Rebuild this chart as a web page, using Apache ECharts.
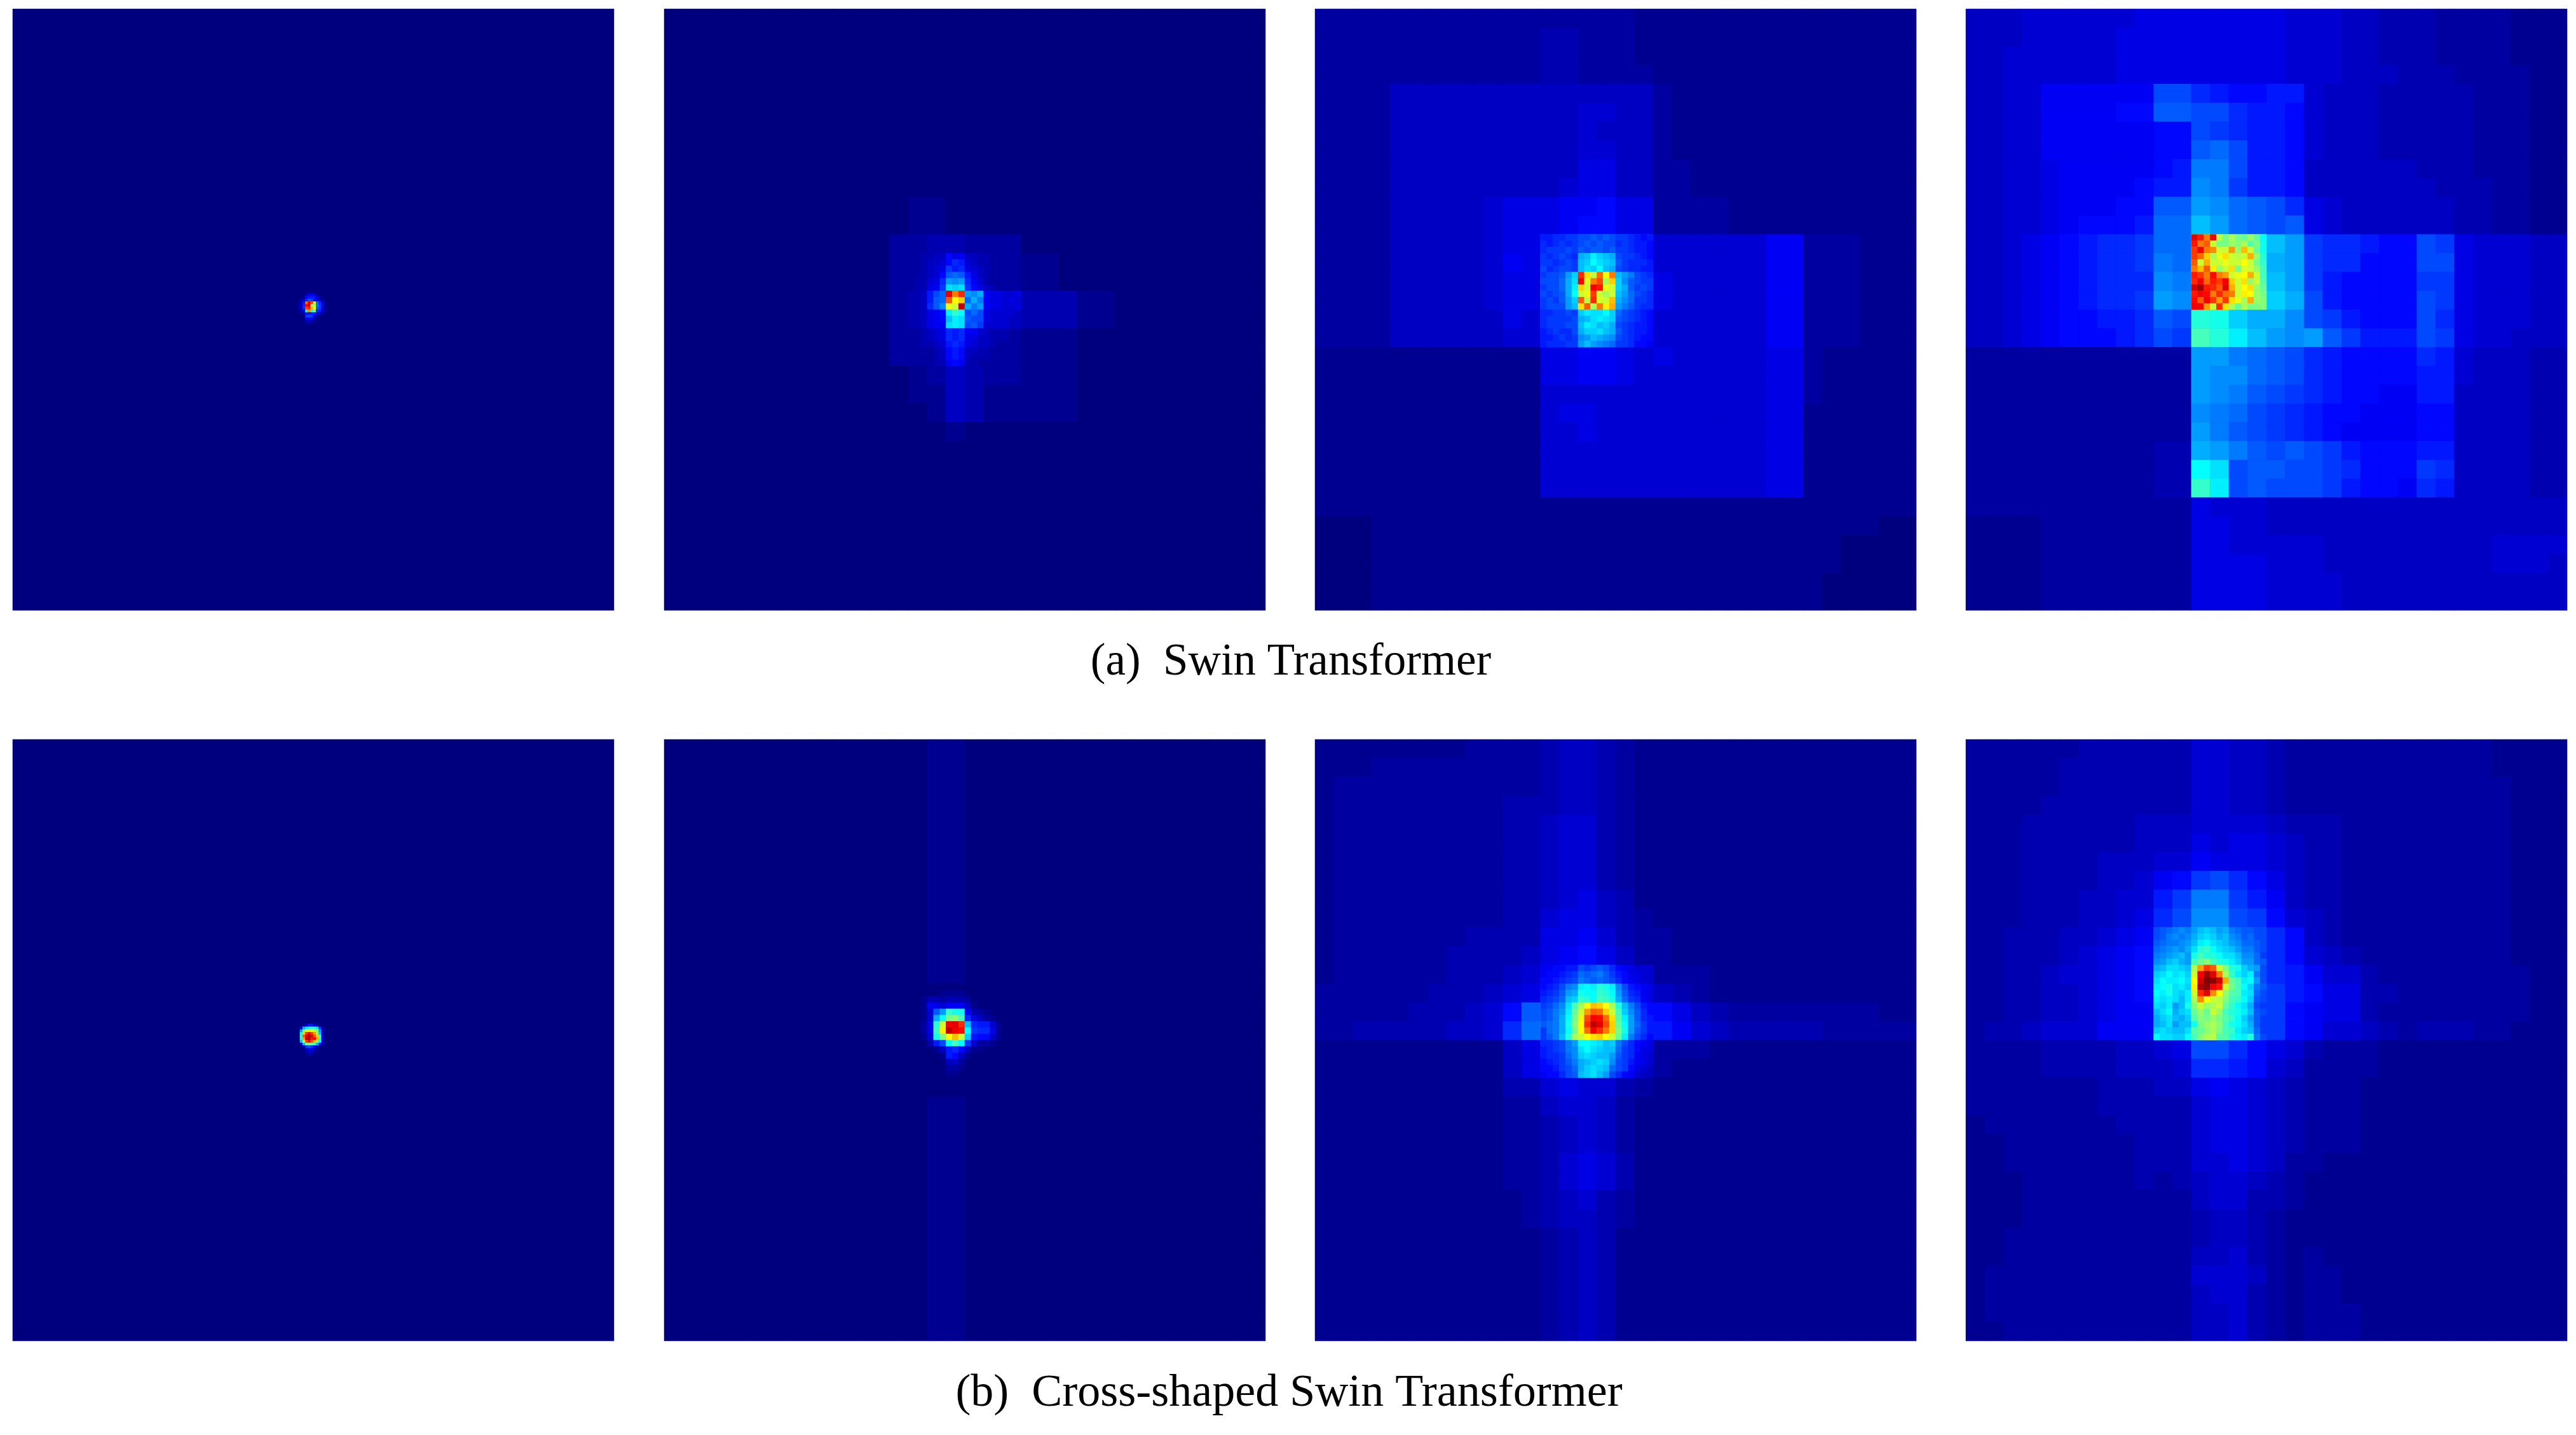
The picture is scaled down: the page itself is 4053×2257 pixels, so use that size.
<!DOCTYPE html>
<html>
<head>
<meta charset="utf-8">
<style>html,body{margin:0;padding:0;background:#fff}#c{width:4053px;height:2257px}</style>
<script src="https://cdn.jsdelivr.net/npm/echarts@6/dist/echarts.min.js"></script>
</head>
<body>
<div id="c"></div>
<script>
// One character per cell: its position in this list is the heat level, 0 (navy) to 61 (dark red).
const LEVELS = "0123456789abcdefghijklmnopqrstuvwxyzABCDEFGHIJKLMNOPQRSTUVWXYZ";
const captions = ["(a)  Swin Transformer", "(b)  Cross-shaped Swin Transformer"];

const swin1Coarse = ["0"];
const swin1Detail = [
"00000110000000","00004666100000","00018999510000","0025adc8641000","0149LSNzea6100","014aRUwxfb7100","014aNPHCdb6100",
"0136mJota95100","00028999631000","0000bcb5200000","00006763100000","00003321000000","00001100000000","00000000000000"];

const swin2Coarse = [
"0000 000000 00 000000 000000 00 000000","0000 000000 00 000000 000000 00 000000","0000 000000 00 000000 000000 00 000000",
"0000 000000 00 000000 000000 00 000000","0000 000000 00 000000 000000 00 000000","0000 000000 00 000000 000000 00 000000",
"0000 000000 00 000000 000000 00 000000","0000 000000 00 000000 000000 00 000000","0000 000000 00 000000 000000 00 000000",
"0000 000000 00 000000 000000 00 000000","0000 000000 00 011000 000000 00 000000","0000 000000 00 011000 000000 00 000000",
"0000 000000 00 223322 200000 00 000000","0000 000000 00 223322 211000 00 000000","0000 000000 00 223322 211000 00 000000",
"0000 000000 00 233333 333311 00 000000","0000 000000 00 233333 333311 00 000000","0000 000000 00 223322 211100 00 000000",
"0000 000000 00 223322 211100 00 000000","0000 000000 00 012432 211100 00 000000","0000 000000 00 011431 111100 00 000000",
"0000 000000 00 001431 111100 00 000000","0000 000000 00 000100 000000 00 000000","0000 000000 00 000000 000000 00 000000",
"0000 000000 00 000000 000000 00 000000","0000 000000 00 000000 000000 00 000000","0000 000000 00 000000 000000 00 000000",
"0000 000000 00 000000 000000 00 000000","0000 000000 00 000000 000000 00 000000","0000 000000 00 000000 000000 00 000000",
"0000 000000 00 000000 000000 00 000000","0000 000000 00 000000 000000 00 000000"];
const swin2Detail = [
"223 344 867 443 322 222","223 445 8a9 543 322 222","223 456 b9a 654 322 222","223 458 ded 964 322 222",
"233 56a hgh a75 322 222","233 67b lkl b86 432 222","334 9ce TKP hgi 766 556","334 9de MCF eif 766 565",
"334 adg BzV ifh 766 556","334 678 mqn cec 655 554","334 678 jml dcc 655 544","334 677 lml cdb 555 544",
"223 456 a9a 775 433 322","223 456 a9a 664 433 322","223 345 9a9 654 432 222","222 234 898 443 322 222",
"222 234 898 433 322 222","222 233 787 332 222 222"];

const swin3Coarse = [
"2222 222222 22 222221 111111 11 111111","2222 222222 22 332221 111111 11 111111","2222 222222 22 332221 111111 11 111111",
"2222 222222 22 332222 111111 11 111111","2222 444444 44 444444 211111 11 111111","2222 444444 44 445544 211111 11 111111",
"2222 444444 44 445444 211111 11 111111","2222 444444 44 445544 211111 11 111111","2222 444444 44 446644 221111 11 111111",
"2222 444444 44 456644 221111 11 111111","2222 444445 66 677866 222211 11 111111","2222 444445 66 678866 222211 11 111111",
"2222 444445 66 bdffdc 555555 77 222111","2222 444445 76 ceklhe 555555 77 222111","2222 444445 66 hnCChh 655555 77 222111",
"2222 444445 66 hnCCif 655555 77 222111","2222 444444 65 einhff 555555 77 222111","2222 444444 55 djhhfd 555555 77 222111",
"1111 111111 11 667765 655555 66 211111","1111 111111 11 667765 555555 66 211111","1111 111111 11 555555 555555 66 211111",
"1111 111111 11 566555 555555 66 111111","1111 111111 11 556555 555555 66 111111","1111 111111 11 555555 555555 66 111111",
"1111 111111 11 555555 555555 66 111111","1111 111111 11 555555 555555 66 111111","1111 111111 11 111111 111111 11 111111",
"0001 111111 11 111111 111111 11 111100","0001 111111 11 111111 111111 11 110000","0001 111111 11 111111 111111 11 110000",
"0001 111111 11 111111 111111 11 100000","0001 111111 11 111111 111111 11 100000"];
const swin3Detail = [
"99a abb ccd cdc bba 989","a9a bab cdc dcc aba 998","abb bcb dcd dcd bba 998","bab cba ijm kji cbb a98",
"bba bcb jkn lkj dba aa9","cab ccb jlk nji cba a99","bcc dhk PEy LCK jhf cba","ccc eil SAK NxF kgd cbb",
"bcc eim FzS QBz kid bcb","cbc din zBO zxz jhe cba","bcb dhk MyP AzG ige bba","bcc chj EMx KDH hfd baa",
"aab bcb kml lnk ecb a98","abb bbc ijl mlk dcb a98","abb bcc jml jki cba 998","9ab aac ikk lji dba 998",
"99a bab ghj ihg cba 988","9aa abb hjh gfe bba 887"];

const swin4Coarse = [
"4445 555556 66 666665 554433 32 222111","4445 555566 66 666665 554433 32 222111","4455 555566 66 666665 554433 32 222111",
"4455 555566 66 666665 554443 33 222211","4455 777777 cc a98899 544433 33 322211","4455 777788 dd cca998 544433 33 322211",
"4455 777777 88 cba998 544433 33 322211","4455 777777 88 dec998 544433 33 322211","4455 677777 89 ffc998 444444 33 322211",
"4455 677778 99 gfb998 444444 43 332211","4455 677788 dd hgedca 654444 44 332211","4455 678889 ee jhedcd 654444 44 332211",
"4456 789aab ee zzzyjh baa988 cb 655544","4456 789aab fe zzzyih baa888 cc 655544","4456 789aaa gf zzzzjh b98888 bb 655544",
"4456 789aab hg zzzzki c98888 cb 655544","4456 78899a dc pokiig cb9888 ca 655544","4456 78889a cb rpmjhg hdb999 cb 655444",
"2222 222222 22 hhfedc a98888 a9 544433","2222 222222 22 hggedc a98888 99 544433","2222 222222 22 hgfdcb a98877 99 444433",
"2222 222222 22 gfecba 988777 88 444433","2222 222222 22 hfdcba 987777 88 444433","2222 222222 33 ihfdcd cb9888 99 444433",
"2222 222222 33 nlcddc cba888 ba 444433","2222 222222 33 qmcdcc cb9887 a9 444433","2222 222222 22 655544 444444 44 444444",
"1111 222222 22 665544 444444 44 444444","1111 222222 22 665555 544444 44 445555","1111 222222 22 666655 544444 44 445554",
"1111 222222 22 666655 554444 44 444444","1111 222222 22 666655 554444 44 444444"];
const swin4Detail = [
"TQKSyuxutwtn","QKMzuuwvxsuo","OSKJzzIwGzto","OLFxBEzyzHwp","MzHzzBzzCzuq","KGMDwzEuAzwr",
"QOKRKIzBCHzr","PSLQOSFzEwzs","UXQPMTHzCEwt","QSRKPLKzDCwu","RMSOIOEBxHwv","SSIzPExtxuuv"];

const cross1Coarse = ["0"];
const cross1Detail = [
"00000000000000","00025996200000","006imppplb4000","00huCCCzuh5000","00nFOSOIvj5000","00pMTXTMFr6000","00oIVWQSHq6000",
"00jxNRMGun5000","005juvtrj93000","0003bdb7400000","00004663100000","00002441000000","00001210000000","00000000000000"];

const cross2Coarse = [
"0000 000000 00 001100 000000 00 000000","0000 000000 00 001100 000000 00 000000","0000 000000 00 001100 000000 00 000000",
"0000 000000 00 001100 000000 00 000000","0000 000000 00 001100 000000 00 000000","0000 000000 00 001100 000000 00 000000",
"0000 000000 00 001100 000000 00 000000","0000 000000 00 001100 000000 00 000000","0000 000000 00 001100 000000 00 000000",
"0000 000000 00 001100 000000 00 000000","0000 000000 00 001100 000000 00 000000","0000 000000 00 001100 000000 00 000000",
"0000 000000 00 001100 000000 00 000000","0000 000000 00 000000 000000 00 000000","0000 000000 00 000000 000000 00 000000",
"0000 000000 00 000000 000000 00 000000","0000 000000 00 000000 000000 00 000000","0000 000000 00 000000 000000 00 000000",
"0000 000000 00 000000 000000 00 000000","0000 000000 00 001100 000000 00 000000","0000 000000 00 001100 000000 00 000000",
"0000 000000 00 001100 000000 00 000000","0000 000000 00 001100 000000 00 000000","0000 000000 00 001100 000000 00 000000",
"0000 000000 00 001100 000000 00 000000","0000 000000 00 001100 000000 00 000000","0000 000000 00 001100 000000 00 000000",
"0000 000000 00 001100 000000 00 000000","0000 000000 00 001100 000000 00 000000","0000 000000 00 001100 000000 00 000000",
"0000 000000 00 001100 000000 00 000000","0000 000000 00 001100 000000 00 000000"];
const cross2Detail = [
"000 000 000 000 000 000","000 001 111 000 000 000","001 332 333 200 000 000","001 765 777 410 000 000",
"001 5dh qoo 732 100 000","001 5in uvr a64 210 000","002 6pz STP ja9 951 000","002 6qD VSR nba a61 000",
"001 5ou CGz k98 841 000","000 39c nrn b52 210 000","000 014 9a8 411 000 000","000 001 984 100 000 000",
"000 000 442 000 000 000","000 000 221 000 000 000","000 000 110 000 000 000","000 000 000 000 000 000",
"000 000 000 000 000 000","000 000 000 000 000 000"];

const cross3Coarse = [
"1111 111122 22 344321 111111 11 111111","1112 222222 22 344321 111111 11 111111","1222 222222 22 344321 111111 11 111111",
"1222 222222 33 344321 111111 11 111111","1222 222222 33 455321 111111 11 111111","1222 222222 33 455321 111111 11 111111",
"1222 222222 33 455321 111111 11 111111","1222 222222 33 455321 111111 11 111111","1222 222222 33 456431 111111 11 111111",
"1222 222222 33 566432 111111 11 111111","1222 222233 33 667532 211111 11 111111","1222 222333 34 678642 211111 11 111111",
"1222 222333 45 78a964 222111 11 111111","2222 223334 56 bceea7 432111 11 111111","2222 233345 8d knAAhc 864322 22 222211",
"2233 333445 ae nuCCjd 975433 33 322222","1111 111111 46 ahkgb7 222111 11 111111","1111 111111 46 9ijf85 211111 11 111111",
"1111 111111 33 565532 111111 11 111111","1111 111111 22 455421 111111 11 111111","1111 111111 22 345421 111111 11 111111",
"1111 111111 22 345421 111111 11 111111","1111 111111 22 356531 111111 11 111111","1111 111111 22 356531 111111 11 111111",
"1111 111111 12 345321 111111 11 111111","1111 111111 12 344321 111111 11 111111","1111 111111 11 234311 111111 11 111111",
"1111 111111 11 234311 111111 11 111111","1111 111111 11 234311 111111 11 111111","1111 111111 11 234311 111111 11 111111",
"1111 111111 11 234311 111111 11 111111","1111 111111 11 234311 111111 11 111111"];
const cross3Detail = [
"778 899 cbc dca 876 555","788 9ab ede fdb 986 655","889 abc fed edc a87 655","89a cfg mnm pom gc9 876",
"9ab dhi onn qpn hda 976","abc ejk qpn rqo ieb a76","bce glr xCG FCx pjf c98","cdf hmt zIM LFz rkg da8",
"cdf inu BNS RLE smh da9","def iov CPV TNF tnh eb9","bef inu CLS PKF uoh db9","bdf jpx zCE FCz tmf ca8",
"aab cfh nnm ljk fca 876","9ab cfg lnl kjj eba 866","9aa beg klk jjh dba 765","89a bdf ijk lkg cb9 765",
"889 bce ikl kje cb8 654","788 acd jkl jhc a87 544"];

const cross4Coarse = [
"2222 223333 33 554432 222222 22 221111","2222 233333 33 554432 222222 22 221111","2222 233333 33 554432 222222 22 222111",
"2222 333333 33 554432 222222 22 222111","2223 333334 44 555543 332222 22 222111","2223 333334 44 656654 332222 22 222111",
"2223 333444 55 766654 332222 22 222111","2223 333445 78 bca864 332222 22 222111","2223 334455 9b ffb974 332222 22 222111",
"2223 334456 ac ggcb85 432222 22 222111","2233 344567 cg jkeea8 432222 22 222111","2233 345678 ek oqjga8 543222 22 222111",
"2233 455678 fn FKqoa9 755322 22 222211","2233 445678 fm HLqnb9 866332 22 222211","2233 445677 fl ruokb8 766322 22 222211",
"2334 555777 gl qrljb8 755432 33 322111","2222 333344 56 cca865 322211 11 111111","2222 333344 45 aa9854 222211 11 111111",
"2222 222333 44 676543 222111 11 111111","2222 222333 33 566543 222111 11 111111","1222 222233 33 566543 222111 11 111111",
"1122 222223 33 566543 222111 11 111111","1122 222223 33 556542 211111 11 111111","1112 222223 23 455432 111111 11 111111",
"1112 222222 22 455332 111111 11 111111","1112 222222 22 344321 111111 11 111111","1122 222222 22 344321 111111 11 111111",
"1122 222222 22 445321 211111 11 111111","1222 222222 22 555421 221111 11 111111","1222 222222 22 455321 221111 11 111111",
"1222 222222 22 445321 222111 11 111111","1122 222222 22 445321 222111 11 111111"];
const cross4Detail = [
"cde fgf hjk jhi fed dcc","cdf gfg ikl kij gfd ecc","def fgh jmn lkj hge edc","efg hgi lpq nlk jhf fdc",
"fgh ijh orp pnl ljg geb","ghj kih rtv rpo mkh hed","ijl lkj xIO Mzv pok ihc","kln lmk zSX TKx qmk mfc",
"lnm mnl CUZ YUH trm nhc","mno lmk DWY SQz urn kfd","nmo lkm zPT JCw srm lec","mlm ljm xJC zyv rqn kdc",
"lkm hjo vzw xzt qnl icb","jln ikl twt zwr pom jdc","ikl jik svu wus qnk hdb","ijl hjj ouw xvr onl idb",
"klk jjl stv xur qmk jeb","nll kkn rvx yss pnm pfc"];

// Layout
const PANEL_X = [20, 1045, 2069, 3093], PANEL_Y = [14, 1163], PANEL_SIZE = 946, UNIT = PANEL_SIZE / 32;
const panels = [
 [swin1Coarse, swin1Detail, 15, 15, 7], [swin2Coarse, swin2Detail, 13, 13, 3], [swin3Coarse, swin3Detail, 12, 12, 3], [swin4Coarse, swin4Detail, 12, 12, 3],
 [cross1Coarse, cross1Detail, 15, 15, 7], [cross2Coarse, cross2Detail, 13, 13, 3], [cross3Coarse, cross3Detail, 12, 12, 3], [cross4Coarse, cross4Detail, 10, 10, 3]
];
const JET = ['#00007f','#0000ff','#007fff','#00ffff','#7fff7f','#ffff00','#ff7f00','#ff0000','#7f0000'];

const grids = [], xAxes = [], yAxes = [], series = [];
function addLayer(rows, left, top, width, height, z, backed) {
  const clean = rows.map(r => r.replace(/ /g, ''));
  const nx = clean[0].length, ny = clean.length, data = [];
  clean.forEach((r, y) => { for (let x = 0; x < nx; x++) data.push([x, y, LEVELS.indexOf(r[x])]); });
  const i = grids.length;
  grids.push({ left, top, width, height, show: backed, backgroundColor: '#00007f', borderWidth: 0, containLabel: false });
  xAxes.push({ type: 'category', gridIndex: i, show: false, data: Array.from({length: nx}, (_, k) => String(k)) });
  yAxes.push({ type: 'category', gridIndex: i, show: false, inverse: true, data: Array.from({length: ny}, (_, k) => String(k)) });
  series.push({ type: 'heatmap', xAxisIndex: i, yAxisIndex: i, data, z, silent: true, progressive: 0, emphasis: { disabled: true } });
}
panels.forEach((p, n) => {
  const left = PANEL_X[n % 4], top = PANEL_Y[n < 4 ? 0 : 1];
  addLayer(p[0], left, top, PANEL_SIZE, PANEL_SIZE, 2, true);
  const cols = p[1][0].replace(/ /g, '').length / p[4], rws = p[1].length / p[4];
  addLayer(p[1], left + p[2] * UNIT, top + p[3] * UNIT, cols * UNIT, rws * UNIT, 3, false);
});

const captionFont = { fontFamily: 'Liberation Serif', fontWeight: 'normal', color: '#000' };
const chart = echarts.init(document.getElementById('c'), null, { renderer: 'canvas', width: 4053, height: 2257 });
chart.setOption({
  animation: false,
  backgroundColor: '#fff',
  title: [
    { text: captions[0], left: 2026, top: 1002, textAlign: 'center', textStyle: Object.assign({ fontSize: 71 }, captionFont) },
    { text: captions[1], left: 2023, top: 2151, textAlign: 'center', textStyle: Object.assign({ fontSize: 72 }, captionFont) }
  ],
  tooltip: { show: false },
  grid: grids, xAxis: xAxes, yAxis: yAxes,
  visualMap: { show: false, type: 'continuous', min: 0, max: 61, dimension: 2, seriesIndex: series.map((_, i) => i), inRange: { color: JET } },
  series
});
</script>
</body>
</html>
